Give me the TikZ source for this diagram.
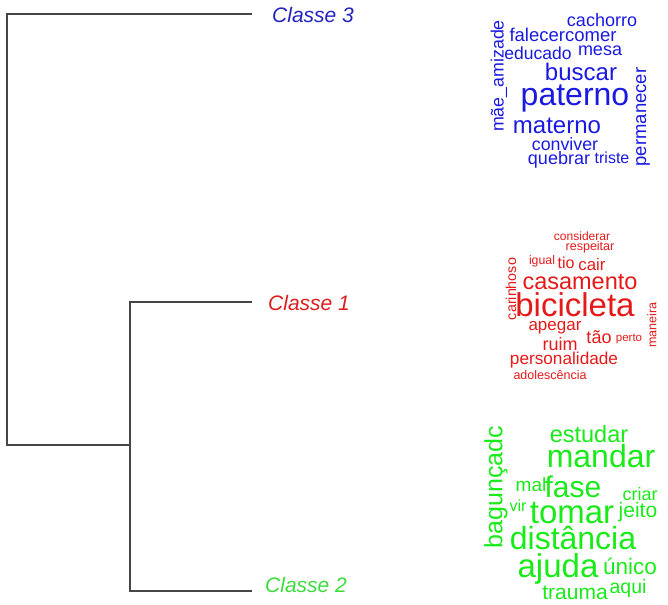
\documentclass[tikz,border=0pt]{standalone}
\usepackage{fontspec}
\setmainfont{Liberation Sans}
\newcommand{\wsz}[1]{\fontsize{#1}{#1}\selectfont}
\definecolor{lblblue}{RGB}{35,35,190}
\definecolor{lblred}{RGB}{220,30,30}
\definecolor{lblgreen}{RGB}{60,220,60}
\definecolor{cblue}{RGB}{25,25,225}
\definecolor{cred}{RGB}{230,25,25}
\definecolor{cgreen}{RGB}{25,235,25}
\definecolor{dline}{RGB}{70,70,70}
\begin{document}
\begin{tikzpicture}[x=1pt,y=-1pt,
  branch/.style={draw=dline,line width=1.4pt},
  lbl/.style={inner sep=0pt,font=\wsz{21}\itshape},
  wb/.style={inner sep=0pt,text=cblue},
  wr/.style={inner sep=0pt,text=cred},
  wg/.style={inner sep=0pt,text=cgreen}]
\useasboundingbox (0,0) rectangle (668,604);
% dendrogram
\coordinate (rt) at (7,14);
\coordinate (rb) at (7,445);
\coordinate (j) at (130,445);
\coordinate (jt) at (130,302);
\coordinate (jb) at (130,591);
\coordinate (e3) at (252,14);
\coordinate (e1) at (252,302);
\coordinate (e2) at (252,591);
\draw[branch] (e3) -- (rt) -- (rb) -- (j);
\draw[branch] (e1) -- (jt) -- (jb) -- (e2);
\node[lbl,text=lblblue,anchor=west] (lab3) at (272,15) {Classe 3};
\node[lbl,text=lblred,anchor=west] (lab1) at (268,303) {Classe 1};
\node[lbl,text=lblgreen,anchor=west] (lab2) at (265,585) {Classe 2};
% blue cloud (Classe 3)
\node[wb,font=\wsz{18}] (b1) at (602,20) {cachorro};
\node[wb,font=\wsz{18.5}] (b2) at (563,35) {falecercomer};
\node[wb,font=\wsz{17.5}] (b3) at (538,53) {educado};
\node[wb,font=\wsz{18}] (b4) at (600,51) {mesa};
\node[wb,font=\wsz{24}] (b5) at (581,72) {buscar};
\node[wb,font=\wsz{32}] (b6) at (575,98) {paterno};
\node[wb,font=\wsz{24}] (b7) at (557,126) {materno};
\node[wb,font=\wsz{17.8}] (b8) at (565,144) {conviver};
\node[wb,font=\wsz{18}] (b9) at (559,160) {quebrar};
\node[wb,font=\wsz{16}] (b10) at (612,158) {triste};
\node[wb,font=\wsz{17.8},rotate=90] (b11) at (499,76) {mãe\_amizade};
\node[wb,font=\wsz{18.5},rotate=90] (b12) at (643,117) {permanecer};
% red cloud (Classe 1)
\node[wr,font=\wsz{12}] (r1) at (582,236) {considerar};
\node[wr,font=\wsz{12.5}] (r2) at (590,247) {respeitar};
\node[wr,font=\wsz{12.3}] (r3) at (542,261) {igual};
\node[wr,font=\wsz{16}] (r4) at (566,263) {tio};
\node[wr,font=\wsz{16.8}] (r5) at (592,264) {cair};
\node[wr,font=\wsz{23.5}] (r6) at (580,282) {casamento};
\node[wr,font=\wsz{33}] (r7) at (575,305) {bicicleta};
\node[wr,font=\wsz{14.3},rotate=90] (r8) at (511,289) {carinhoso};
\node[wr,font=\wsz{17}] (r9) at (555,328) {apegar};
\node[wr,font=\wsz{18}] (r10) at (599,337) {tão};
\node[wr,font=\wsz{11.5}] (r11) at (629,339) {perto};
\node[wr,font=\wsz{12.5},rotate=90] (r12) at (652,325) {maneira};
\node[wr,font=\wsz{18}] (r13) at (560,344) {ruim};
\node[wr,font=\wsz{17.2}] (r14) at (564,360) {personalidade};
\node[wr,font=\wsz{12.5}] (r15) at (550,375) {adolescência};
% green cloud (Classe 2)
\node[wg,font=\wsz{23.5}] (g1) at (589,434) {estudar};
\node[wg,font=\wsz{32}] (g2) at (601,456) {mandar};
\node[wg,font=\wsz{25},rotate=90] (g3) at (496,487) {bagunçadc};
\node[wg,font=\wsz{19}] (g4) at (531,485) {mal};
\node[wg,font=\wsz{30}] (g5) at (573,487) {fase};
\node[wg,font=\wsz{18}] (g6) at (640,494) {criar};
\node[wg,font=\wsz{16}] (g7) at (518,506) {vir};
\node[wg,font=\wsz{33}] (g8) at (572,513) {tomar};
\node[wg,font=\wsz{21}] (g9) at (638,512) {jeito};
\node[wg,font=\wsz{32}] (g10) at (573,538) {distância};
\node[wg,font=\wsz{33}] (g11) at (558,569) {ajuda};
\node[wg,font=\wsz{22.5}] (g12) at (630,566) {único};
\node[wg,font=\wsz{21}] (g13) at (575,593) {trauma};
\node[wg,font=\wsz{19.5}] (g14) at (628,588) {aqui};
\end{tikzpicture}
\end{document}
